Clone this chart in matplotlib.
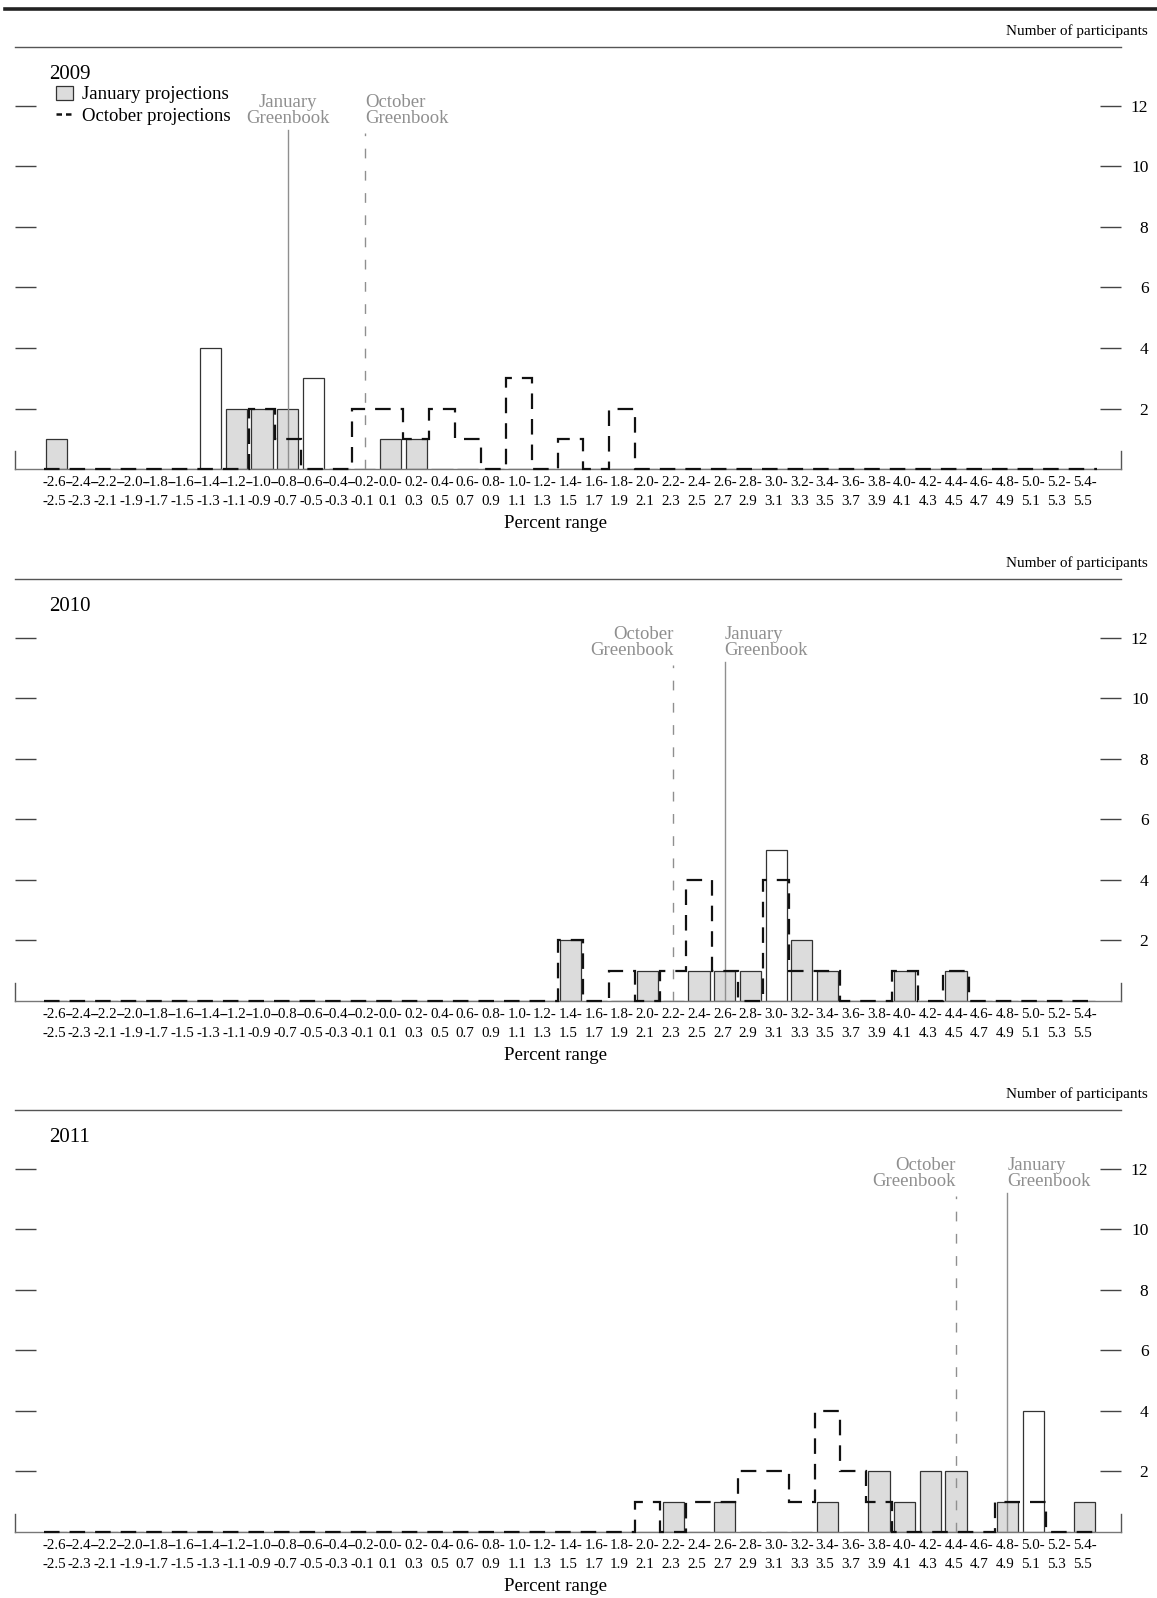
import matplotlib
matplotlib.use('Agg')
import matplotlib.pyplot as plt
from matplotlib.patches import Patch
from matplotlib.lines import Line2D

plt.rcParams['font.family'] = ['Liberation Serif', 'DejaVu Serif']

# lower end of each 0.1-wide percent range
bin_lo = [-2.6, -2.4, -2.2, -2.0, -1.8, -1.6, -1.4, -1.2, -1.0, -0.8,
          -0.6, -0.4, -0.2, 0.0, 0.2, 0.4, 0.6, 0.8, 1.0, 1.2,
          1.4, 1.6, 1.8, 2.0, 2.2, 2.4, 2.6, 2.8, 3.0, 3.2,
          3.4, 3.6, 3.8, 4.0, 4.2, 4.4, 4.6, 4.8, 5.0, 5.2, 5.4]

years = ['2009', '2010', '2011']

jan_2009 = [1, 0, 0, 0, 0, 0, 4, 2, 2, 2, 3, 0, 0, 1, 1, 0, 0, 0, 0, 0,
            0, 0, 0, 0, 0, 0, 0, 0, 0, 0, 0, 0, 0, 0, 0, 0, 0, 0, 0, 0, 0]
oct_2009 = [0, 0, 0, 0, 0, 0, 0, 0, 2, 1, 0, 0, 2, 2, 1, 2, 1, 0, 3, 0,
            1, 0, 2, 0, 0, 0, 0, 0, 0, 0, 0, 0, 0, 0, 0, 0, 0, 0, 0, 0, 0]
jan_2010 = [0, 0, 0, 0, 0, 0, 0, 0, 0, 0, 0, 0, 0, 0, 0, 0, 0, 0, 0, 0,
            2, 0, 0, 1, 0, 1, 1, 1, 5, 2, 1, 0, 0, 1, 0, 1, 0, 0, 0, 0, 0]
oct_2010 = [0, 0, 0, 0, 0, 0, 0, 0, 0, 0, 0, 0, 0, 0, 0, 0, 0, 0, 0, 0,
            2, 0, 1, 0, 1, 4, 1, 0, 4, 1, 1, 0, 0, 1, 0, 1, 0, 0, 0, 0, 0]
jan_2011 = [0, 0, 0, 0, 0, 0, 0, 0, 0, 0, 0, 0, 0, 0, 0, 0, 0, 0, 0, 0,
            0, 0, 0, 0, 1, 0, 1, 0, 0, 0, 1, 0, 2, 1, 2, 2, 0, 1, 4, 0, 1]
oct_2011 = [0, 0, 0, 0, 0, 0, 0, 0, 0, 0, 0, 0, 0, 0, 0, 0, 0, 0, 0, 0,
            0, 0, 0, 1, 0, 1, 1, 2, 2, 1, 4, 2, 1, 0, 0, 0, 0, 1, 1, 0, 0]

jan_counts = [jan_2009, jan_2010, jan_2011]
oct_counts = [oct_2009, oct_2010, oct_2011]

# Greenbook forecasts (percent)
gb_jan = [-0.75, 2.65, 4.85]
gb_oct = [-0.15, 2.25, 4.45]

y_ticks = [2, 4, 6, 8, 10, 12]

# text alignment of the Greenbook labels per panel
gb_jan_ha = ['center', 'left', 'left']
gb_oct_ha = ['left', 'right', 'right']

GRAY_FILL = '#dcdcdc'
GB_COLOR = '#8f8f8f'

centers = [lo + 0.05 for lo in bin_lo]
edges = [lo - 0.05 for lo in bin_lo] + [bin_lo[-1] + 0.15]
xlabels = ['%.1f-\n%.1f' % (lo, lo + 0.1) for lo in bin_lo]

fig = plt.figure(figsize=(11.57, 15.98), dpi=100)

# heavy rule at the top of the page
fig.add_artist(Line2D([0.004, 1.0], [0.9945, 0.9945], color='#222222', lw=2.6))

bottoms = [0.7065, 0.3736, 0.0413]
for k in range(3):
    ax = fig.add_axes([0.0132, bottoms[k], 0.9560, 0.2641])
    ax.set_xlim(-2.87, 5.736)
    ax.set_ylim(0, 13.95)

    jan = jan_counts[k]
    fills = ['white' if v >= 3 else GRAY_FILL for v in jan]
    ax.bar(centers, jan, width=0.165, color=fills, edgecolor='#333333',
           linewidth=0.9, zorder=2)

    # Greenbook lines
    ax.plot([gb_jan[k], gb_jan[k]], [0, 11.2], color=GB_COLOR, lw=1.0, zorder=3)
    ax.plot([gb_oct[k], gb_oct[k]], [0, 11.1], color=GB_COLOR, lw=1.0,
            linestyle=(0, (7, 9)), zorder=3)
    ax.text(gb_jan[k], 11.85, 'January\nGreenbook', color=GB_COLOR, fontsize=13.5,
            ha=gb_jan_ha[k], va='center', multialignment=gb_jan_ha[k],
            linespacing=0.85, zorder=3)
    ax.text(gb_oct[k], 11.85, 'October\nGreenbook', color=GB_COLOR, fontsize=13.5,
            ha=gb_oct_ha[k], va='center', multialignment=gb_oct_ha[k],
            linespacing=0.85, zorder=3)

    # October projections as a dashed step outline
    ax.stairs(oct_counts[k], edges, baseline=0, fill=False, color='#111111',
              linewidth=1.6, linestyle=(0, (7, 4.5)), zorder=4, clip_on=False)

    # spines
    for s in ['top', 'bottom', 'left', 'right']:
        ax.spines[s].set_color('#555555')
        ax.spines[s].set_linewidth(1.0)
    ax.spines['left'].set_bounds(0, 0.6)
    ax.spines['right'].set_bounds(0, 0.6)
    ax.spines['bottom'].set_color('#777777')

    # ticks
    ax.set_yticks(y_ticks)
    ax.tick_params(axis='y', which='both', direction='in', length=15, width=1.0,
                   color='#444444', left=True, right=True, labelleft=False,
                   labelright=True, labelsize=12.5, pad=19.5)
    for t in ax.get_yticklabels():
        t.set_horizontalalignment('right')

    ax.set_xticks(centers)
    ax.set_xticklabels(xlabels, fontsize=10.8, linespacing=1.6)
    for t in ax.get_xticklabels():
        t.set_multialignment('left')
    ax.tick_params(axis='x', length=0, pad=5)

    ax.text(0.4885, -0.128, 'Percent range', transform=ax.transAxes,
            fontsize=13.5, ha='center', va='center')
    ax.text(1.024, 1.038, 'Number of participants', transform=ax.transAxes,
            fontsize=11, ha='right', va='center')
    ax.text(0.0305, 0.935, years[k], transform=ax.transAxes,
            fontsize=15, ha='left', va='center')

    if k == 0:
        handles = [Patch(facecolor=GRAY_FILL, edgecolor='#333333', linewidth=0.9),
                   Line2D([0], [0], color='#111111', lw=1.8, linestyle=(0, (2.2, 1.6)))]
        ax.legend(handles, ['January projections', 'October projections'],
                  loc='upper left', bbox_to_anchor=(0.0368, 0.908), frameon=False,
                  fontsize=13.5, handlelength=0.9, handleheight=0.8,
                  handletextpad=0.5, borderpad=0, borderaxespad=0,
                  labelspacing=0.2)

fig.savefig('out.png', dpi=100)
